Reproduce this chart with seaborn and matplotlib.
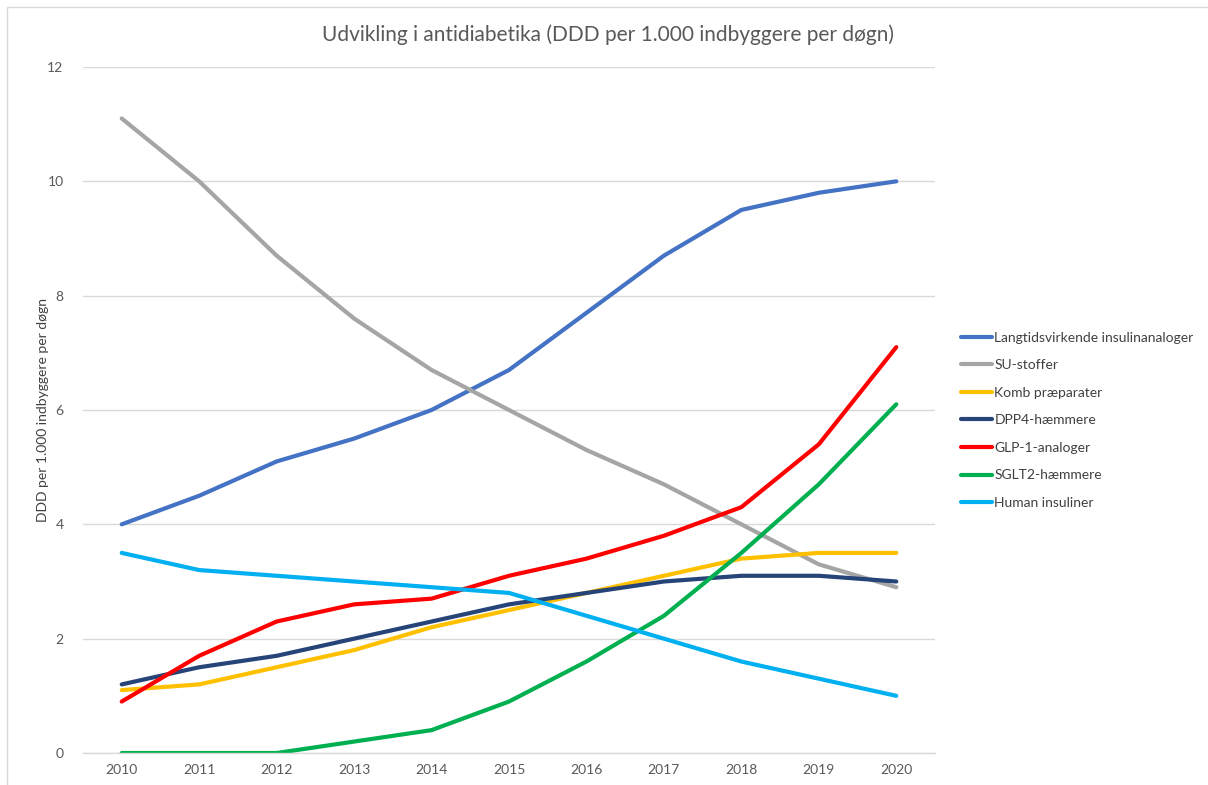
import matplotlib
matplotlib.use("Agg")
import matplotlib.pyplot as plt
import seaborn as sns
import pandas as pd
from matplotlib.patches import Rectangle

years = [2010, 2011, 2012, 2013, 2014, 2015, 2016, 2017, 2018, 2019, 2020]
langtids = [4.0, 4.5, 5.1, 5.5, 6.0, 6.7, 7.7, 8.7, 9.5, 9.8, 10.0]
su_stoffer = [11.1, 10.0, 8.7, 7.6, 6.7, 6.0, 5.3, 4.7, 4.0, 3.3, 2.9]
komb = [1.1, 1.2, 1.5, 1.8, 2.2, 2.5, 2.8, 3.1, 3.4, 3.5, 3.5]
dpp4 = [1.2, 1.5, 1.7, 2.0, 2.3, 2.6, 2.8, 3.0, 3.1, 3.1, 3.0]
glp1 = [0.9, 1.7, 2.3, 2.6, 2.7, 3.1, 3.4, 3.8, 4.3, 5.4, 7.1]
sglt2 = [0.0, 0.0, 0.0, 0.2, 0.4, 0.9, 1.6, 2.4, 3.5, 4.7, 6.1]
human = [3.5, 3.2, 3.1, 3.0, 2.9, 2.8, 2.4, 2.0, 1.6, 1.3, 1.0]

series_names = ["Langtidsvirkende insulinanaloger", "SU-stoffer", "Komb præparater",
                "DPP4-hæmmere", "GLP-1-analoger", "SGLT2-hæmmere", "Human insuliner"]
series_values = [langtids, su_stoffer, komb, dpp4, glp1, sglt2, human]
colors = ["#4472C4", "#A5A5A5", "#FFC000", "#264478", "#FF0000", "#00B050", "#00B0F0"]

title = "Udvikling i antidiabetika (DDD per 1.000 indbyggere per døgn)"
ylabel = "DDD per 1.000 indbyggere per døgn"

rows = []
for name, vals in zip(series_names, series_values):
    for y, v in zip(years, vals):
        rows.append({"År": y, "Værdi": v, "Serie": name})
df = pd.DataFrame(rows)

sns.set_theme(style="white")
plt.rcParams['font.family'] = ['Lato', 'DejaVu Sans']

fig = plt.figure(figsize=(12.08, 7.85), dpi=100)
ax = fig.add_axes([83/1208, 1 - 753/785, (935-83)/1208, (753-67)/785])

sns.lineplot(data=df, x="År", y="Værdi", hue="Serie", hue_order=series_names,
             palette=dict(zip(series_names, colors)), linewidth=3.0, ax=ax,
             legend=True, solid_capstyle="round")

ax.set_xlim(2009.5, 2020.5)
ax.set_ylim(0, 12)
ax.set_xticks(years)
ax.set_xticklabels([str(y) for y in years])
ax.set_yticks([0, 2, 4, 6, 8, 10, 12])
ax.yaxis.grid(True, color="#D9D9D9", linewidth=1.0)
ax.set_axisbelow(True)
for s in ["top", "right", "left"]:
    ax.spines[s].set_visible(False)
ax.spines["bottom"].set_color("#D9D9D9")
ax.spines["bottom"].set_linewidth(1.0)
ax.tick_params(axis="both", length=0, labelsize=10, colors="#595959", pad=8)
ax.tick_params(axis="y", pad=14)
ax.set_xlabel("")
ax.set_ylabel(ylabel, fontsize=10, color="#404040", labelpad=-1)

leg = ax.legend(loc="center left", bbox_to_anchor=(1.016, 0.485), frameon=False,
                fontsize=10, handlelength=2.2, handletextpad=0.2, labelspacing=1.12)
for t in leg.get_texts():
    t.set_color("#404040")
for h in leg.get_lines():
    h.set_linewidth(3.0)

fig.text(0.503, 1 - 35/785, title, ha="center", va="center", fontsize=15, color="#595959")

fig.patches.append(Rectangle((7/1208, -0.01), 1.2, 1 - 7/785 + 0.01, transform=fig.transFigure,
                             fill=False, edgecolor="#D9D9D9", linewidth=1.0))

fig.savefig("out.png", dpi=100)
